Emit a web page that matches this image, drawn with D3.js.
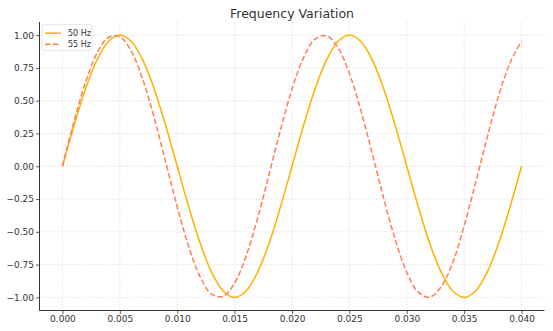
<!DOCTYPE html>
<html><head><meta charset="utf-8">
<script src="https://cdn.jsdelivr.net/npm/d3@7"></script>
<style>body{margin:0;background:#fff;}svg{display:block;font-family:"DejaVu Sans",sans-serif;}</style>
</head><body><svg id="c" width="553" height="331"></svg>
<script>
const times = [0.000,0.001,0.002,0.003,0.004,0.005,0.006,0.007,0.008,0.009,0.010,0.011,0.012,0.013,0.014,0.015,0.016,0.017,0.018,0.019,0.020,0.021,0.022,0.023,0.024,0.025,0.026,0.027,0.028,0.029,0.030,0.031,0.032,0.033,0.034,0.035,0.036,0.037,0.038,0.039,0.040];
const wave50 = [0,0.309,0.588,0.809,0.951,1,0.951,0.809,0.588,0.309,0,-0.309,-0.588,-0.809,-0.951,-1,-0.951,-0.809,-0.588,-0.309,0,0.309,0.588,0.809,0.951,1,0.951,0.809,0.588,0.309,0,-0.309,-0.588,-0.809,-0.951,-1,-0.951,-0.809,-0.588,-0.309,0];
const wave55 = [0,0.339,0.637,0.861,0.982,0.988,0.876,0.661,0.368,0.031,-0.309,-0.613,-0.844,-0.976,-0.992,-0.891,-0.685,-0.397,-0.063,0.279,0.588,0.827,0.969,0.996,0.905,0.707,0.426,0.094,-0.249,-0.562,-0.809,-0.960,-0.998,-0.918,-0.736,-0.454,-0.125,0.218,0.536,0.790,0.951];
const seriesNames = ["50 Hz","55 Hz"];
const xTicks = [0,0.005,0.010,0.015,0.020,0.025,0.030,0.035,0.040];
const yTicks = [-1,-0.75,-0.5,-0.25,0,0.25,0.5,0.75,1];
const title = "Frequency Variation";

const svg = d3.select("#c");
const L=39.5, R=544.5, T=22, B=310.5;
const x = d3.scaleLinear().domain([-0.002,0.042]).range([L,R]);
const y = d3.scaleLinear().domain([-1.1,1.1]).range([B,T]);

// grid
const g = svg.append("g");
g.selectAll(".vg").data(xTicks).join("line")
 .attr("x1",d=>x(d)).attr("x2",d=>x(d)).attr("y1",T).attr("y2",B)
 .attr("stroke","#dcdcdc").attr("stroke-width",0.8).attr("stroke-dasharray","1.5,1.5");
g.selectAll(".hg").data(yTicks).join("line")
 .attr("x1",L).attr("x2",R).attr("y1",d=>y(d)).attr("y2",d=>y(d))
 .attr("stroke","#dcdcdc").attr("stroke-width",0.8).attr("stroke-dasharray","1.5,1.5");

// lines
const line = (vals)=>d3.line().x((d,i)=>x(times[i])).y(d=>y(d)).curve(d3.curveCatmullRom.alpha(0.5))(vals);
svg.append("path").attr("d",line(wave50)).attr("fill","none").attr("stroke","#FFB000").attr("stroke-width",1.5);
svg.append("path").attr("d",line(wave55)).attr("fill","none").attr("stroke","#FF7F50").attr("stroke-width",1.5).attr("stroke-dasharray","5.5,2.5");

// axes
const xAxis = d3.axisBottom(x).tickValues(xTicks).tickFormat(d3.format(".3f")).tickSize(3.5).tickPadding(2);
const yAxis = d3.axisLeft(y).tickValues(yTicks).tickFormat(d3.format(".2f")).tickSize(3.5).tickPadding(2);
const ax = svg.append("g").attr("transform",`translate(0,${B})`).call(xAxis);
const ay = svg.append("g").attr("transform",`translate(${L},0)`).call(yAxis);
[ax,ay].forEach(a=>{
  a.select(".domain").remove();
  a.selectAll("text").attr("font-size",9).attr("fill","#333").attr("font-family","DejaVu Sans");
  a.selectAll("line").attr("stroke","#333").attr("stroke-width",0.8);
});
ay.selectAll("text").text(d=>d3.format(".2f")(d).replace("-","\u2212"));
svg.append("line").attr("x1",L).attr("x2",L).attr("y1",T).attr("y2",B).attr("stroke","#333").attr("stroke-width",1);
svg.append("line").attr("x1",L).attr("x2",R).attr("y1",B).attr("y2",B).attr("stroke","#333").attr("stroke-width",1);

// title
svg.append("text").attr("x",(L+R)/2).attr("y",18).attr("text-anchor","middle").attr("font-size",12.5).attr("fill","#333").text(title);

// legend
const lg = svg.append("g").attr("transform",`translate(42,24.7)`);
lg.append("rect").attr("width",50).attr("height",26).attr("rx",2).attr("fill","#fff").attr("fill-opacity",0.8).attr("stroke","#ddd").attr("stroke-width",0.8);
const colors=["#FFB000","#FF7F50"], dashes=[null,"5.5,2.5"];
seriesNames.forEach((n,i)=>{
  const yy = 8.5+i*11;
  lg.append("line").attr("x1",3).attr("x2",19).attr("y1",yy).attr("y2",yy).attr("stroke",colors[i]).attr("stroke-width",1.5).attr("stroke-dasharray",dashes[i]);
  lg.append("text").attr("x",26).attr("y",yy+3).attr("font-size",8).attr("fill","#333").text(n);
});
</script></body></html>
